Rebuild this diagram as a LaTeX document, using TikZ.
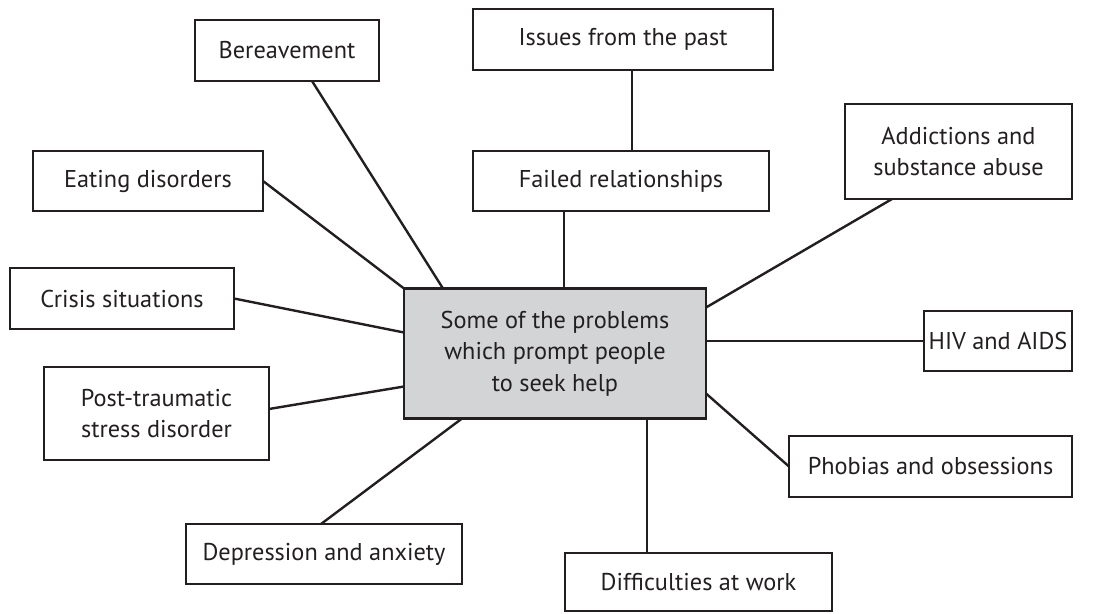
\documentclass[tikz,border=0pt]{standalone}
\usepackage{fontspec}
\setmainfont{PT Sans}
\definecolor{ink}{HTML}{231F20}
\definecolor{hub}{HTML}{D3D4D6}
\begin{document}
\begin{tikzpicture}[x=1pt,y=-1pt,
  every node/.style={font=\fontsize{24.3}{31.5}\selectfont, text=ink},
  leaf/.style={draw=ink, line width=2.6pt, fill=white, align=center,
    inner sep=0pt, outer sep=0pt},
  centre/.style={leaf, fill=hub},
  link/.style={draw=ink, line width=2.4pt}]
\useasboundingbox (0,0) rectangle (1097,613);

% central box
\node[centre, minimum width=302, minimum height=130] (c) at (555,353.5)
  {Some of the problems\\which prompt people\\to seek help};

% surrounding problem boxes
\node[leaf, minimum width=184, minimum height=61] (bere)   at (287,50.5)  {Bereavement};
\node[leaf, minimum width=230, minimum height=60] (eat)    at (148,181)   {Eating disorders};
\node[leaf, minimum width=224, minimum height=61] (crisis) at (122,298.5) {Crisis situations};
\node[leaf, minimum width=225, minimum height=93] (ptsd)   at (156.5,413.5) {Post-traumatic\\stress disorder};
\node[leaf, minimum width=276, minimum height=60] (dep)    at (324,554)   {Depression and anxiety};
\node[leaf, minimum width=300, minimum height=61] (issues) at (623,39.5)  {Issues from the past};
\node[leaf, minimum width=296, minimum height=60] (failed) at (621,181)   {Failed relationships};
\node[leaf, minimum width=227, minimum height=95] (addict) at (958.5,151.5) {Addictions and\\substance abuse};
\node[leaf, minimum width=148, minimum height=60] (hiv)    at (998,341)   {HIV and AIDS};
\node[leaf, minimum width=283, minimum height=61] (phob)   at (930.5,466.5) {Phobias and obsessions};
\node[leaf, minimum width=267, minimum height=58] (diff)   at (698.5,582) {Difficulties at work};

% connectors from each problem box to the central box
\draw[link] ([xshift=117pt]bere.south west) -- ([xshift=39pt]c.north west);
\draw[link] (eat.east) -- (c.north west);
\draw[link] (crisis.east) -- ([yshift=-44pt]c.north west);
\draw[link] ([yshift=4.5pt]ptsd.east) -- ([yshift=-98pt]c.north west);
\draw[link] ([xshift=135pt]dep.north west) -- ([xshift=58pt]c.south west);
\draw[link] ([xshift=159pt]issues.south west) -- ([xshift=159pt]failed.north west);
\draw[link] ([xshift=91pt]failed.south west) -- ([xshift=160pt]c.north west);
\draw[link] ([xshift=47pt]addict.south west) -- ([yshift=-19pt]c.north east);
\draw[link] (hiv.west) -- (hiv.west -| c.east);
\draw[link] (phob.west) -- ([yshift=-105pt]c.north east);
\draw[link] ([xshift=82pt]diff.north west) -- ([xshift=243pt]c.south west);
\end{tikzpicture}
\end{document}
